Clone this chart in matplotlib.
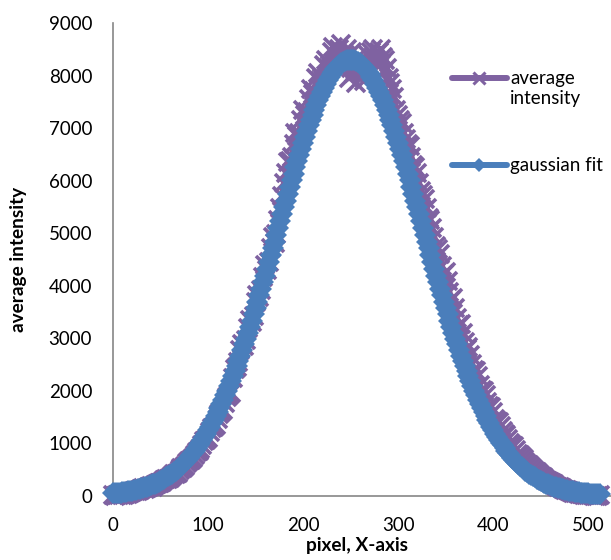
import matplotlib
matplotlib.use("Agg")
import matplotlib.pyplot as plt
from matplotlib.ticker import FixedLocator

# pixel position along the X-axis (every 2nd pixel)
pixel = list(range(0, 513, 2))

# measured average intensity per pixel
average_intensity = [
    10, 0, 5, 20, 25, 15, 20, 35, 40, 50,
    70, 90, 95, 85, 100, 125, 140, 130, 145, 170,
    180, 175, 195, 225, 240, 235, 255, 290, 315, 320,
    340, 380, 410, 415, 440, 490, 525, 530, 560, 615,
    665, 680, 710, 780, 840, 855, 890, 975, 1040, 1060,
    1100, 1210, 1290, 1310, 1350, 1460, 1560, 1590, 1640, 1770,
    1880, 1910, 1960, 2250, 2420, 2450, 2540, 2780, 2880, 2850,
    2960, 3200, 3350, 3310, 3430, 3680, 3830, 3790, 3920, 4170,
    4400, 4300, 4450, 4720, 4930, 4820, 4980, 5250, 5480, 5700,
    5950, 6150, 6350, 6380, 6450, 6700, 6900, 6850, 6900, 7150,
    7350, 7250, 7300, 7550, 7750, 7650, 7700, 7950, 8050, 7900,
    7950, 8200, 8300, 8150, 8200, 8450, 8550, 8250, 8350, 8500,
    8600, 8200, 8400, 8500, 7950, 8150, 8450, 8050, 7850, 8350,
    8300, 8050, 7900, 8250, 8400, 8150, 8450, 8500, 8300, 8200,
    8450, 8500, 8350, 8300, 8150, 7950, 7850, 7750, 7600, 7350,
    7250, 7150, 7100, 6900, 6800, 6700, 6650, 6450, 6300, 6250,
    6150, 5950, 5800, 5720, 5650, 5480, 5280, 5250, 5100, 4920,
    4750, 4700, 4600, 4380, 4220, 4250, 4080, 3870, 3720, 3760,
    3580, 3380, 3250, 3260, 3100, 2920, 2800, 2830, 2680, 2500,
    2400, 2380, 2280, 2110, 2020, 2000, 1920, 1780, 1700, 1680,
    1600, 1470, 1420, 1400, 1330, 1230, 1180, 1150, 1080, 1000,
    960, 940, 870, 800, 770, 740, 690, 640, 610, 590,
    540, 500, 470, 450, 410, 375, 350, 330, 300, 275,
    255, 240, 215, 190, 175, 165, 145, 120, 110, 100,
    85, 70, 60, 55, 45, 35, 30, 28, 20, 12,
    10, 8, 5, 0, 0, 3,
    5,
]

# gaussian fit evaluated at the same pixels
gaussian_fit = [
    43, 46, 50, 55, 59, 64, 70, 76, 82, 89,
    96, 104, 112, 121, 130, 140, 151, 162, 175, 188,
    201, 216, 232, 248, 266, 285, 304, 325, 347, 371,
    395, 421, 449, 478, 508, 540, 574, 609, 646, 685,
    725, 768, 813, 859, 908, 958, 1011, 1066, 1123, 1183,
    1245, 1309, 1375, 1444, 1516, 1589, 1666, 1744, 1826, 1910,
    1996, 2085, 2176, 2270, 2366, 2464, 2565, 2668, 2774, 2882,
    2992, 3104, 3218, 3334, 3452, 3571, 3693, 3815, 3940, 4065,
    4192, 4320, 4448, 4578, 4708, 4838, 4969, 5100, 5230, 5361,
    5491, 5620, 5748, 5876, 6002, 6127, 6250, 6371, 6491, 6608,
    6722, 6834, 6944, 7050, 7153, 7252, 7348, 7441, 7529, 7613,
    7693, 7769, 7840, 7906, 7968, 8025, 8076, 8123, 8164, 8200,
    8230, 8255, 8275, 8289, 8297, 8300, 8297, 8289, 8275, 8255,
    8230, 8200, 8164, 8123, 8076, 8025, 7968, 7906, 7840, 7769,
    7693, 7613, 7529, 7441, 7348, 7252, 7153, 7050, 6944, 6834,
    6722, 6608, 6491, 6371, 6250, 6127, 6002, 5876, 5748, 5620,
    5491, 5361, 5230, 5100, 4969, 4838, 4708, 4578, 4448, 4320,
    4192, 4065, 3940, 3815, 3693, 3571, 3452, 3334, 3218, 3104,
    2992, 2882, 2774, 2668, 2565, 2464, 2366, 2270, 2176, 2085,
    1996, 1910, 1826, 1744, 1666, 1589, 1516, 1444, 1375, 1309,
    1245, 1183, 1123, 1066, 1011, 958, 908, 859, 813, 768,
    725, 685, 646, 609, 574, 540, 508, 478, 449, 421,
    395, 371, 347, 325, 304, 285, 266, 248, 232, 216,
    201, 188, 175, 162, 151, 140, 130, 121, 112, 104,
    96, 89, 82, 76, 70, 64, 59, 55, 50, 46,
    43, 39, 36, 33, 30, 28,
    25,
]

x_ticks = [0, 100, 200, 300, 400, 500]
y_ticks = [0, 1000, 2000, 3000, 4000, 5000, 6000, 7000, 8000, 9000]

PURPLE = "#7F62A1"
BLUE = "#4A7EBB"
AXIS_GREY = "#868686"

plt.rcParams["font.family"] = ["Lato", "DejaVu Sans"]

fig = plt.figure(figsize=(6.11, 5.60), dpi=100)
ax = fig.add_axes([0.1849, 0.1148, 0.8151, 0.8441])

ax.plot(pixel, average_intensity, color=PURPLE, lw=4.5, marker="x", ms=12.5,
        mew=2.6, mec=PURPLE, clip_on=False, zorder=3,
        solid_joinstyle="round", solid_capstyle="round")
ax.plot(pixel, gaussian_fit, color=BLUE, lw=5, marker="D", ms=11.5,
        mew=0, mfc=BLUE, clip_on=False, zorder=4,
        solid_joinstyle="round", solid_capstyle="round")

ax.set_xlim(0, 524)
ax.set_ylim(0, 9000)
ax.xaxis.set_major_locator(FixedLocator(x_ticks))
ax.yaxis.set_major_locator(FixedLocator(y_ticks))
ax.set_xticklabels([str(v) for v in x_ticks])
ax.set_yticklabels([str(v) for v in y_ticks])
ax.tick_params(axis="both", length=0, labelsize=13.5, colors="black")
ax.tick_params(axis="y", pad=15)
ax.tick_params(axis="x", pad=15)

for side in ("top", "right"):
    ax.spines[side].set_visible(False)
for side in ("left", "bottom"):
    ax.spines[side].set_color(AXIS_GREY)
    ax.spines[side].set_linewidth(1.2)
    ax.spines[side].set_zorder(1)

ax.set_xlabel("pixel, X-axis", fontsize=13.7, fontweight="bold")
ax.set_ylabel("average intensity", fontsize=13.7, fontweight="bold")
ax.xaxis.set_label_coords(0.49, -0.088)
ax.yaxis.set_label_coords(-0.172, 0.5)

# legend, drawn in axes coordinates
lx0, lx1, ltx = 0.6807, 0.7912, 0.797
for y, col, mk, ms, mew in ((0.8836, PURPLE, "x", 9, 2.2),
                            (0.6996, BLUE, "D", 7, 0)):
    ax.plot([lx0, lx1], [y, y], transform=ax.transAxes, color=col, lw=4.3,
            solid_capstyle="round", clip_on=False, zorder=5)
    ax.plot([(lx0 + lx1) / 2], [y], transform=ax.transAxes, color=col,
            marker=mk, ms=ms, mew=mew, mec=col, mfc=col, clip_on=False, zorder=6)
ax.text(ltx, 0.8614, "average\nintensity", transform=ax.transAxes,
        fontsize=13.5, va="center", ha="left", linespacing=1.22)
ax.text(ltx, 0.6996, "gaussian fit", transform=ax.transAxes,
        fontsize=13.5, va="center", ha="left")

fig.savefig("out.png", dpi=100)
